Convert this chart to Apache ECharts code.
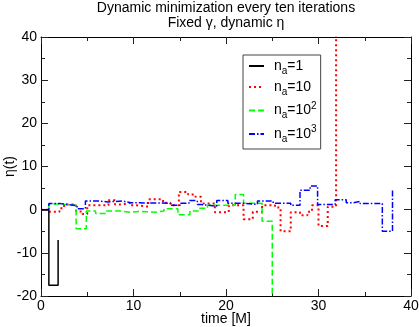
<!DOCTYPE html>
<html>
<head>
<meta charset="utf-8">
<script src="https://cdn.jsdelivr.net/npm/echarts@6/dist/echarts.min.js"></script>
<style>
  html, body { margin: 0; padding: 0; background: #fff; }
  #main { width: 419px; height: 327px; }
</style>
</head>
<body>
<div id="main"></div>
<script>
// step data: [time, eta] -> eta holds from this time until the next point
var na1 = [[0, 0], [0.85, -17.5], [1.85, -7]];
var na10 = [[0, 0], [0.9, -0.5], [2.0, 0.3], [2.5, 1.2], [3.8, -0.4], [4.5, -1.0], [5.0, 1.0], [7.3, 2.2],
  [8.0, 1.2], [8.8, 1.6], [9.7, 1.0], [10.3, 0.7], [11.6, 2.4], [13.2, 1.6], [14.0, 1.0], [14.9, 4.1],
  [15.9, 3.5], [16.7, 3.0], [17.3, 1.4], [18.8, -0.6], [20.3, 1.0], [21.9, -2.2], [22.9, -0.5],
  [23.9, 1.0], [25.3, 0.5], [25.9, -5.0], [27.0, -0.6], [28.0, -1.3], [28.8, -0.5], [29.3, 1.0],
  [30.0, -3.8], [31.0, 0.7], [31.9, 45]];
var na100 = [[0, 0], [0.85, 1.3], [2.1, 1.0], [3.8, -4.4], [4.9, -0.3], [5.9, -0.9], [7.0, -0.3],
  [8.6, -0.6], [9.7, -0.4], [10.9, -0.6], [12.4, -0.3], [13.3, 0.2], [14.8, -1.2], [16.1, -0.3],
  [17.0, 0.3], [18.0, 1.0], [21.0, 3.5], [21.9, 1.5], [23.9, -2.7], [25.0, -30]];
var na1000 = [[0, 0], [0.85, 1.4], [2.1, 1.2], [2.9, 0.9], [3.9, 0.2], [4.8, 2.0], [6.2, 1.8], [7.2, 2.0],
  [8.8, 1.6], [9.7, 1.5], [14.0, 1.0], [15.1, 1.5], [16.0, 2.1], [16.9, 1.2], [17.3, 0.8], [19.0, 2.1],
  [20.2, 1.5], [21.9, 1.2], [23.4, 2.0], [25.1, 1.5], [27.0, 1.0], [28.0, 4.5], [29.1, 5.5], [29.9, 1.2],
  [31.8, 2.3], [33.0, 1.6], [33.8, 1.9], [34.5, 1.4], [36.9, -5.0], [38.0, 4.9]];

var seriesNames = ['n_a=1', 'n_a=10', 'n_a=100', 'n_a=1000'];
var legendText = {
  'n_a=1': '{n|n}{s|a}{b|=1}',
  'n_a=10': '{n|n}{s|a}{b|=10}',
  'n_a=100': '{n|n}{s|a}{b|=10}{p|2}',
  'n_a=1000': '{n|n}{s|a}{b|=10}{p|3}'
};

var font = 'Liberation Sans, Arial, Helvetica, sans-serif';
var myChart = echarts.init(document.getElementById('main'));

function frameAxis(pos, extra) {
  var a = {
    type: 'value',
    position: pos,
    axisLine: { show: true, onZero: false, lineStyle: { color: '#000', width: 1 } },
    axisTick: { show: true, inside: true, length: 7, lineStyle: { color: '#222' } },
    minorTick: { show: true, splitNumber: 2, length: 4, lineStyle: { color: '#222' } },
    splitLine: { show: false },
    axisLabel: { show: false }
  };
  for (var k in extra) a[k] = extra[k];
  return a;
}

function mkSeries(name, data, color, type, width, z) {
  return {
    name: name, type: 'line', step: 'end', data: data,
    showSymbol: false, symbol: 'none', clip: true, z: z,
    lineStyle: { color: color, width: width, type: type },
    itemStyle: { color: color }
  };
}

var option = {
  animation: false,
  backgroundColor: '#fff',
  title: {
    text: 'Dynamic minimization every ten iterations\nFixed γ, dynamic η',
    left: 226, top: 1, padding: 0, textAlign: 'center',
    textStyle: { fontFamily: font, fontSize: 14, fontWeight: 'normal', color: '#000', lineHeight: 14.5 }
  },
  grid: { left: 41, right: 8, top: 37, bottom: 31, containLabel: false, outerBoundsMode: 'none' },
  legend: {
    data: seriesNames,
    orient: 'vertical', left: 243, top: 55,
    padding: [4, 4, 5, 5], itemGap: 4, itemWidth: 15, itemHeight: 10,
    borderColor: '#444', borderWidth: 1,
    itemStyle: { opacity: 0 },
    formatter: function (name) { return legendText[name]; },
    textStyle: {
      fontFamily: font, color: '#000',
      rich: {
        n: { fontFamily: font, fontSize: 14, color: '#000', padding: [0, 0, 0, 5] },
        b: { fontFamily: font, fontSize: 14, color: '#000' },
        s: { fontFamily: font, fontSize: 10, color: '#000', padding: [10, 0, 0, 0] },
        p: { fontFamily: font, fontSize: 10, color: '#000', padding: [0, 0, 9, 0] }
      }
    }
  },
  xAxis: [
    frameAxis('bottom', {
      min: 0, max: 40, interval: 10,
      name: 'time [M]', nameLocation: 'middle', nameGap: 16, nameMoveOverlap: false,
      nameTextStyle: { fontFamily: font, fontSize: 14, color: '#000' },
      axisLabel: { show: true, margin: 3, fontFamily: font, fontSize: 14, color: '#000' }
    }),
    frameAxis('top', { min: 0, max: 40, interval: 10 })
  ],
  yAxis: [
    frameAxis('left', {
      min: -20, max: 40, interval: 10,
      name: 'η(t)', nameLocation: 'middle', nameGap: 24, nameMoveOverlap: false,
      nameTextStyle: { fontFamily: font, fontSize: 14, color: '#000' },
      axisLabel: { show: true, margin: 4, fontFamily: font, fontSize: 14, color: '#000' }
    }),
    frameAxis('right', { min: -20, max: 40, interval: 10 })
  ],
  series: [
    mkSeries('n_a=1', na1, '#000000', 'solid', 1.5, 5),
    mkSeries('n_a=10', na10, '#ff0000', [2, 3], 2, 2),
    mkSeries('n_a=100', na100, '#00ff00', [6, 3], 1.5, 3),
    mkSeries('n_a=1000', na1000, '#0000ff', [6, 2, 1.5, 2], 1.5, 4)
  ]
};

myChart.setOption(option);
window.onresize = myChart.resize;
</script>
</body>
</html>
